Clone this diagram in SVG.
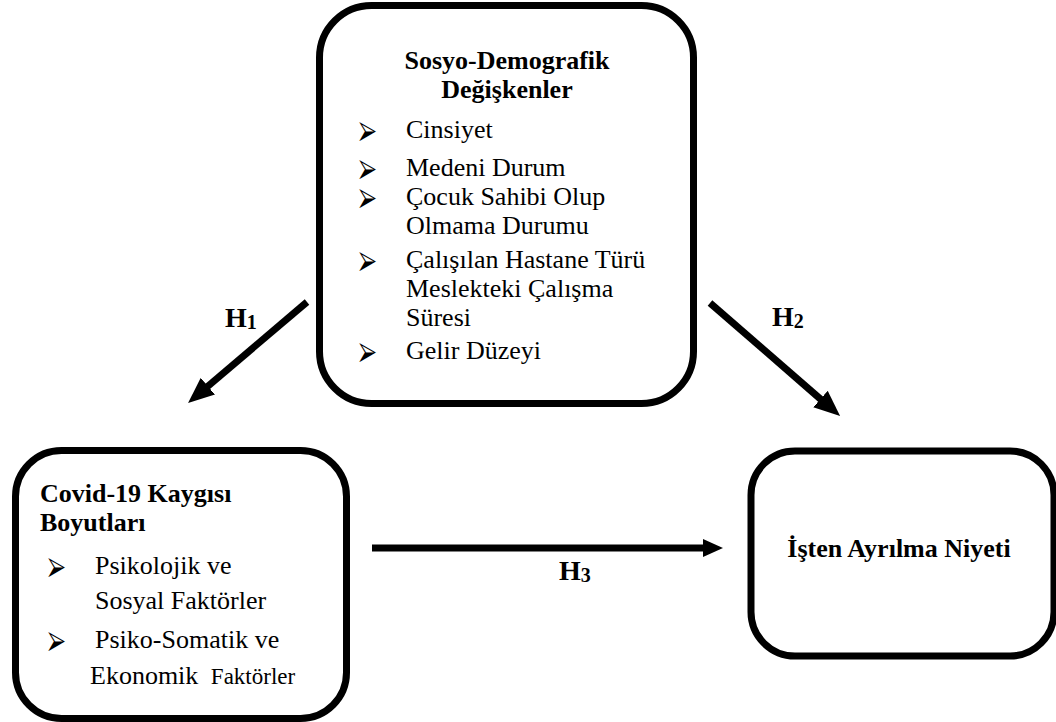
<svg xmlns="http://www.w3.org/2000/svg" width="1056" height="722" viewBox="0 0 1056 722">
  <style>
    .box { fill: #ffffff; stroke: #000000; stroke-width: 7; }
    .link { stroke: #000000; stroke-width: 7; fill: none; }
  </style>
  <defs>
    <marker id="headBig" markerUnits="userSpaceOnUse" markerWidth="27" markerHeight="23" refX="6" refY="11" orient="auto">
      <path d="M0,0 L26,11 L0,22 Z" fill="#000"/>
    </marker>
    <marker id="headSmall" markerUnits="userSpaceOnUse" markerWidth="21" markerHeight="19" refX="5" refY="9" orient="auto">
      <path d="M0,0 L20,9 L0,18 Z" fill="#000"/>
    </marker>
  </defs>

  <!-- socio-demographic variables: list items first, heading after -->
  <g id="node-demografik">
    <rect class="box" x="319.5" y="5.5" width="374" height="398" rx="52" ry="52"/>
    <g font-family="Liberation Serif, Times New Roman, serif" font-size="26" font-weight="normal">
      <text x="406" y="138">Cinsiyet</text>
      <text x="406" y="176">Medeni Durum</text>
      <text x="406" y="205">Çocuk Sahibi Olup</text>
      <text x="406" y="234">Olmama Durumu</text>
      <text x="406" y="268">Çalışılan Hastane Türü</text>
      <text x="406" y="297">Meslekteki Çalışma</text>
      <text x="406" y="326">Süresi</text>
      <text x="406" y="359">Gelir Düzeyi</text>
    </g>
    <g font-family="DejaVu Sans" font-size="24">
      <text x="359" y="138">⮚</text>
      <text x="359" y="176">⮚</text>
      <text x="359" y="205">⮚</text>
      <text x="359" y="268">⮚</text>
      <text x="359" y="359">⮚</text>
    </g>
    <g font-family="Liberation Serif, Times New Roman, serif" font-size="26" font-weight="bold" text-anchor="middle">
      <text x="507" y="69">Sosyo-Demografik</text>
      <text x="507" y="98">Değişkenler</text>
    </g>
  </g>

  <!-- covid-19 anxiety dimensions -->
  <g id="node-covid">
    <rect class="box" x="15.5" y="450.5" width="331" height="268" rx="46" ry="46"/>
    <g font-family="Liberation Serif, Times New Roman, serif" font-size="26" font-weight="normal">
      <text x="95" y="574">Psikolojik ve</text>
      <text x="95" y="609">Sosyal Faktörler</text>
      <text x="95" y="648">Psiko-Somatik ve</text>
      <text x="90" y="684">Ekonomik <tspan font-size="23" dx="6">Faktörler</tspan></text>
    </g>
    <g font-family="DejaVu Sans" font-size="24">
      <text x="48" y="574">⮚</text>
      <text x="48" y="648">⮚</text>
    </g>
    <g font-family="Liberation Serif, Times New Roman, serif" font-size="26" font-weight="bold">
      <text x="40" y="502">Covid-19 Kaygısı</text>
      <text x="40" y="531">Boyutları</text>
    </g>
  </g>

  <!-- turnover intention -->
  <g id="node-niyet">
    <rect class="box" x="751" y="451" width="303" height="205" rx="44" ry="44"/>
    <text font-family="Liberation Serif, Times New Roman, serif" font-size="26" font-weight="bold" x="899" y="557" text-anchor="middle">İşten Ayrılma Niyeti</text>
  </g>

  <!-- connectors with hypothesis labels -->
  <g id="connectors" font-family="Liberation Serif, Times New Roman, serif" font-size="28" font-weight="bold">
    <line class="link" x1="307" y1="302" x2="203.3" y2="390.1" marker-end="url(#headBig)"/>
    <line class="link" x1="710" y1="303" x2="825" y2="403" marker-end="url(#headBig)"/>
    <line class="link" x1="372" y1="548" x2="708" y2="548" marker-end="url(#headSmall)"/>
    <text x="225" y="327">H<tspan font-size="20" dy="2">1</tspan></text>
    <text x="772" y="326">H<tspan font-size="20" dy="2">2</tspan></text>
    <text x="559" y="580">H<tspan font-size="20" dy="2">3</tspan></text>
  </g>
</svg>
